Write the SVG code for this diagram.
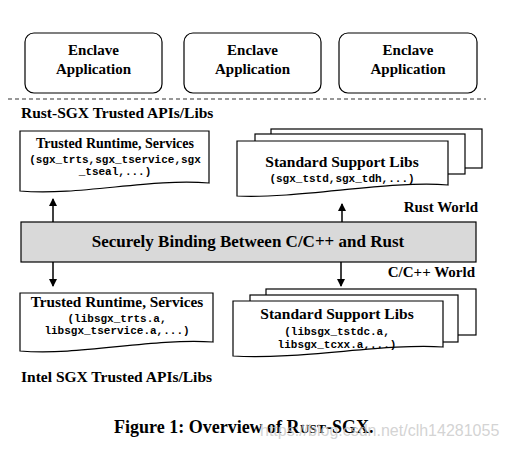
<svg xmlns="http://www.w3.org/2000/svg" width="506" height="453" viewBox="0 0 506 453">
<style>
.box{fill:#fff;stroke:#000;stroke-width:1.2}
.t{font-family:"Liberation Serif",serif;font-weight:bold;fill:#000}
.m{font-family:"Liberation Mono",monospace;font-weight:bold;font-size:11px;fill:#000}
.c{text-anchor:middle}
.ln{stroke:#000;stroke-width:1.5;fill:none}
</style>
<defs>
<marker id="ah" markerWidth="8" markerHeight="10" refX="7" refY="5" orient="auto" markerUnits="userSpaceOnUse">
<path d="M0,1 L8,5 L0,9 Z" fill="#000"/>
</marker>
</defs>
<rect width="506" height="453" fill="#fff"/>

<g id="enclave1"><rect class="box" x="25" y="33" width="137" height="60" rx="9"/>
<text class="t c" x="93.5" y="55" font-size="15">Enclave</text>
<text class="t c" x="93.5" y="74" font-size="15">Application</text></g>
<g id="enclave2"><rect class="box" x="184" y="33" width="137" height="60" rx="9"/>
<text class="t c" x="252.5" y="55" font-size="15">Enclave</text>
<text class="t c" x="252.5" y="74" font-size="15">Application</text></g>
<g id="enclave3"><rect class="box" x="339" y="33" width="138" height="60" rx="9"/>
<text class="t c" x="408" y="55" font-size="15">Enclave</text>
<text class="t c" x="408" y="74" font-size="15">Application</text></g>

<line x1="8" y1="99" x2="486" y2="99" stroke="#333" stroke-width="1.2" stroke-dasharray="4,3"/>

<text class="t" x="21" y="118" font-size="15.5">Rust-SGX Trusted APIs/Libs</text>

<g id="rust-runtime">
<path class="box" d="M20,131 H209 V183 C150,178 80,196 20,191 Z"/>
<text class="t c" x="115" y="148" font-size="14">Trusted Runtime, Services</text>
<text class="m c" x="115" y="163">(sgx_trts,sgx_tservice,sgx</text>
<text class="m c" x="115" y="175">_tseal,...)</text>
</g>

<g id="rust-stdlibs">
<rect class="box" x="271" y="129" width="211" height="39"/>
<rect class="box" x="255" y="134" width="210" height="40"/>
<path class="box" d="M237,141 H448 V185 C390,180 300,199 237,196 Z"/>
<text class="t c" x="342" y="167" font-size="15.5">Standard Support Libs</text>
<text class="m c" x="342" y="182">(sgx_tstd,sgx_tdh,...)</text>
</g>

<text class="t" x="478" y="212" font-size="15" text-anchor="end">Rust World</text>

<g id="binding">
<rect x="21" y="222" width="455" height="40" fill="#d9d9d9" stroke="#000" stroke-width="1.2"/>
<text class="t c" x="248" y="247" font-size="17">Securely Binding Between C/C++ and Rust</text>
</g>

<text class="t" x="475" y="277" font-size="15" text-anchor="end">C/C++ World</text>

<g id="c-runtime">
<path class="box" d="M20,293 H213 V342 C150,338 80,356 20,351 Z"/>
<text class="t c" x="117" y="307" font-size="15.3">Trusted Runtime, Services</text>
<text class="m c" x="117" y="322">(libsgx_trts.a,</text>
<text class="m c" x="117" y="334">libsgx_tservice.a,...)</text>
</g>

<g id="c-stdlibs">
<rect class="box" x="266" y="289" width="210" height="46"/>
<rect class="box" x="250" y="295" width="208" height="47"/>
<path class="box" d="M233,301 H443 V347 C385,343 300,360 233,356 Z"/>
<text class="t c" x="337" y="319" font-size="15.5">Standard Support Libs</text>
<text class="m c" x="337" y="335">(libsgx_tstdc.a,</text>
<text class="m c" x="337" y="348">libsgx_tcxx.a,...)</text>
</g>

<text class="t" x="21" y="382" font-size="15.5">Intel SGX Trusted APIs/Libs</text>

<g id="connectors">
<line class="ln" x1="53" y1="222" x2="53" y2="199" marker-end="url(#ah)"/>
<line class="ln" x1="342" y1="222" x2="342" y2="204" marker-end="url(#ah)"/>
<line class="ln" x1="53" y1="262" x2="53" y2="286" marker-end="url(#ah)"/>
<line class="ln" x1="341" y1="262" x2="341" y2="286" marker-end="url(#ah)"/>
</g>

<text class="t" x="114" y="433" font-size="18">Figure 1: Overview of R<tspan font-size="13.5">UST</tspan>-SGX.</text>
<text x="260" y="436" font-family="Liberation Sans,sans-serif" font-size="16" fill="#c8c8c8" fill-opacity="0.8">https://blog.csdn.net/clh14281055</text>
</svg>
